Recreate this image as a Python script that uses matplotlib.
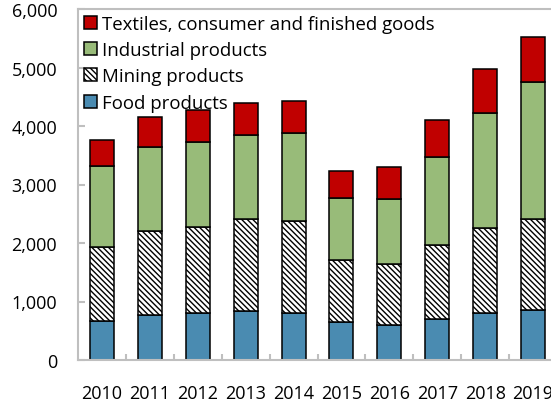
import numpy as np
import matplotlib.pyplot as plt
from matplotlib.ticker import FuncFormatter, FixedLocator

plt.rcParams['font.family'] = ['Open Sans', 'DejaVu Sans']
plt.rcParams['hatch.linewidth'] = 1.0
plt.rcParams['hatch.color'] = '#3A3A3A'

# data
years = ['2010', '2011', '2012', '2013', '2014', '2015', '2016', '2017', '2018', '2019']
food = [674, 771, 800, 834, 800, 646, 605, 703, 800, 857]
mining = [1257, 1440, 1480, 1571, 1577, 1068, 1041, 1257, 1451, 1548]
industrial = [1383, 1423, 1446, 1446, 1506, 1063, 1102, 1515, 1978, 2355]
textiles = [446, 515, 548, 549, 540, 446, 543, 634, 737, 760]

fig = plt.figure(figsize=(5.51, 4.02), dpi=100)
ax = fig.add_axes([78 / 551, 41 / 402, 479 / 551, 351 / 402])

x = np.arange(len(years))
w = 0.5
ec = 'black'
lw = 1.1

b1 = ax.bar(x, food, w, color='#4A8BB1', edgecolor=ec, linewidth=lw, label='Food products')
bottom = np.array(food)
b2 = ax.bar(x, mining, w, bottom=bottom, color='white', hatch='\\' * 6, edgecolor=ec,
            linewidth=lw, label='Mining products')
bottom = bottom + np.array(mining)
b3 = ax.bar(x, industrial, w, bottom=bottom, color='#98BB79', edgecolor=ec, linewidth=lw,
            label='Industrial products')
bottom = bottom + np.array(industrial)
b4 = ax.bar(x, textiles, w, bottom=bottom, color='#C00000', edgecolor=ec, linewidth=lw,
            label='Textiles, consumer and finished goods')

ax.set_xlim(-0.5, 9.5)
ax.set_ylim(0, 6000)
ax.set_yticks(np.arange(0, 6001, 1000))
ax.yaxis.set_major_formatter(FuncFormatter(lambda v, p: f'{int(v):,}'))
ax.set_xticks(x)
ax.set_xticklabels(years)
ax.xaxis.set_minor_locator(FixedLocator(x[:-1] + 0.5))

gray = '#BFBFBF'
for s in ax.spines.values():
    s.set_color(gray)
    s.set_linewidth(1.5)

ax.tick_params(axis='y', direction='in', length=5, width=1.5, color=gray,
               labelsize=13, pad=15)
ax.tick_params(axis='x', which='major', length=0, labelsize=13, pad=17)
ax.tick_params(axis='x', which='minor', direction='in', length=4, width=1.5, color=gray)

handles = [b4, b3, b2, b1]
ax.legend(handles, [h.get_label() for h in handles], loc='upper left', frameon=False,
          fontsize=13.4, handlelength=0.7, handleheight=0.7, handletextpad=0.3,
          labelspacing=0.45, borderaxespad=0.1, borderpad=0.2)

fig.savefig('out.png', dpi=100)
